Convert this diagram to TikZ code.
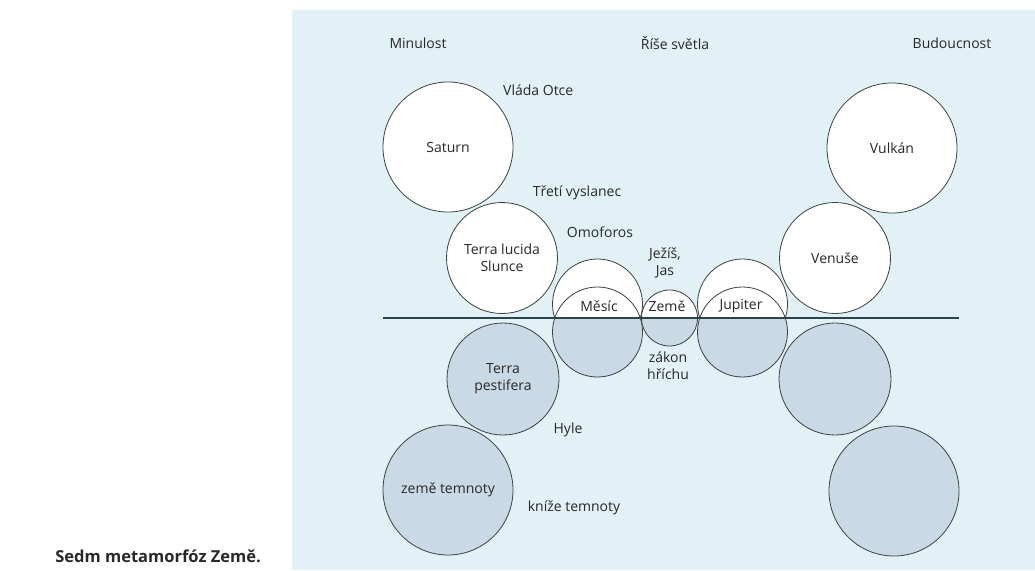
\documentclass[tikz,border=0pt]{standalone}
\usepackage{fontspec}
\setmainfont{Open Sans}
\usetikzlibrary{positioning}

\definecolor{panel}{RGB}{226,241,245}
\definecolor{lowfill}{RGB}{201,217,229}
\definecolor{ink}{RGB}{60,64,66}
\definecolor{horizon}{RGB}{42,68,72}
\definecolor{word}{RGB}{40,40,40}

\begin{document}
\begin{tikzpicture}[x=1pt,y=-1pt,
    every node/.style={font=\fontsize{14}{17}\selectfont, text=word},
    ball/.style={circle, draw=ink, line width=0.8pt, fill=white, inner sep=0pt, minimum size=#1, align=center},
    dark/.style={ball=#1, fill=lowfill},
    half/.style={ball=#1, path picture={\fill[lowfill] (path picture bounding box.south west) rectangle (path picture bounding box.east |- lineL);}},
    tag/.style={inner sep=0pt, align=center}]
  \useasboundingbox (0,0) rectangle (1035,570);
  \fill[panel] (292,10) rectangle (1035,570);
  \coordinate (lineL) at (383,318);
  \coordinate (lineR) at (959,318);
  % headings
  \node[tag] (past) at (418,43) {Minulost};
  \node[tag] (light) at (675,43) {Říše světla};
  \node[tag] (future) at (952,43) {Budoucnost};
  % left column
  \node[ball=130pt] (saturn) at (448,147) {Saturn};
  \node[ball=111pt] (lucida) at (502,258) {Terra lucida\\Slunce};
  \node[dark=112pt] (pestifera) at (503,379) {Terra\\pestifera};
  \node[dark=130pt] (temnota) at (448,490) {země temnoty};
  % right column
  \node[ball=130pt] (vulkan) at (892,148) {Vulkán};
  \node[ball=111pt] (venuse) at (835,258) {Venuše};
  \node[dark=112pt] (pravyB) at (835,379) {};
  \node[dark=130pt] (pravyC) at (894,491) {};
  % middle
  \node[ball=90pt] (mesicA) at (597.5,304) {};
  \node[half=90pt] (mesicB) at (597.5,332) {};
  \node[ball=90pt] (jupiterA) at (742.5,304) {};
  \node[half=90pt] (jupiterB) at (742.5,332) {};
  \node[half=56pt] (zeme) at (669.5,318) {};
  \draw[horizon, line width=1.4pt] (lineL) -- (lineR);
  \node[tag] (mesic) at (599,306) {Měsíc};
  \node[tag] (zemeT) at (667,306) {Země};
  \node[tag] (jupiter) at (741,306) {Jupiter};
  % free labels
  \node[tag, anchor=west] (otec) at (503,90) {Vláda Otce};
  \node[tag] (vyslanec) at (577,193) {Třetí vyslanec};
  \node[tag] (omoforos) at (600,232) {Omoforos};
  \node[tag] (jezis) at (665,263) {Ježíš,\\Jas};
  \node[tag] (zakon) at (668,366) {zákon\\hříchu};
  \node[tag] (hyle) at (568,430) {Hyle};
  \node[tag] (knize) at (574,508) {kníže temnoty};
  % caption
  \node[tag, anchor=base east, font=\fontsize{16.5}{19}\selectfont\bfseries] (popis) at (261,562) {Sedm metamorfóz Země.};
\end{tikzpicture}
\end{document}
